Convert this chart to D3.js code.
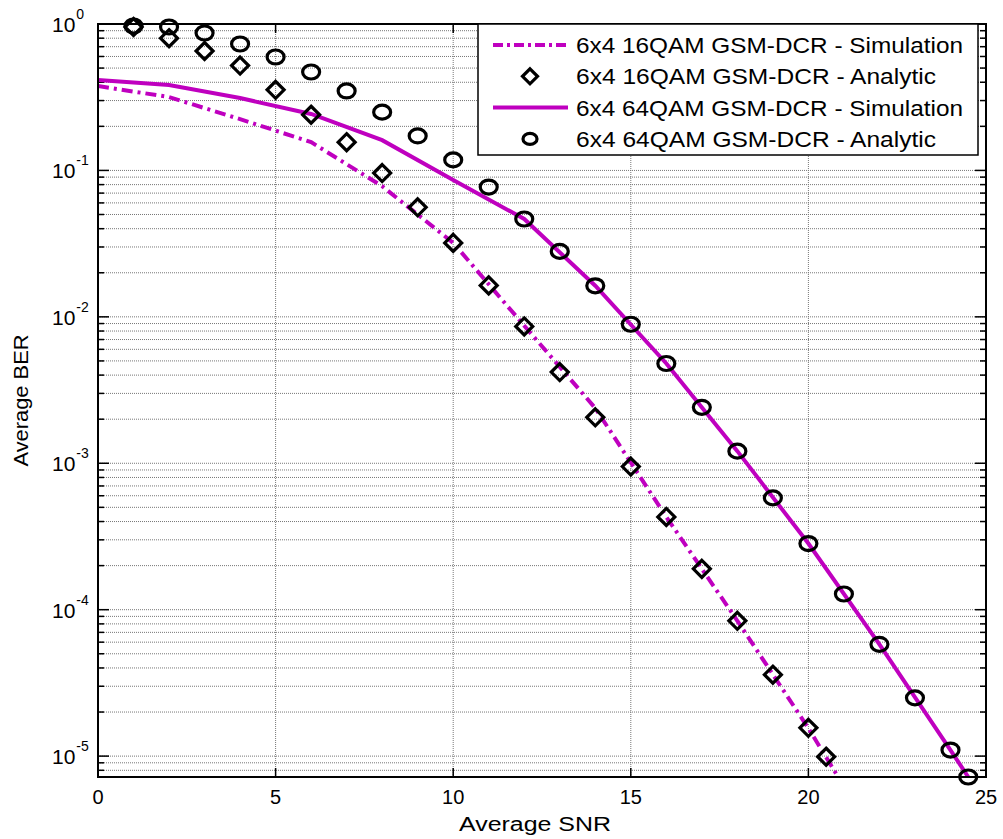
<!DOCTYPE html>
<html>
<head>
<meta charset="utf-8">
<script src="https://cdn.jsdelivr.net/npm/d3@7"></script>
<style>
    body { margin: 0; background: #fff; }
    text { font-family: "Liberation Sans", Arial, sans-serif; fill: #000; }
</style>
</head>
<body>
<div id="chart"></div>
<script>

// ---- data ----
const snr16Sim = [0, 2, 4, 6, 8, 10, 12, 14, 16, 18, 20, 21];
const ber16Sim = [0.377, 0.317, 0.224, 0.156, 0.078, 0.032, 0.0087, 0.00238, 0.00043, 0.000084, 0.0000155, 0.0000062];

const snr16Ana = [1, 2, 3, 4, 5, 6, 7, 8, 9, 10, 11, 12, 13, 14, 15, 16, 17, 18, 19, 20, 20.5];
const ber16Ana = [0.954, 0.80, 0.654, 0.52, 0.355, 0.24, 0.156, 0.096, 0.056, 0.032, 0.0164, 0.0086, 0.0042,
    0.00206, 0.00095, 0.00043, 0.00019, 0.000084, 0.000036, 0.0000156, 0.0000099];

const snr64Sim = [0, 2, 4, 6, 8, 10, 12, 14, 16, 18, 20, 22, 24, 24.5];
const ber64Sim = [0.414, 0.383, 0.312, 0.243, 0.161, 0.086, 0.0466, 0.0163, 0.0048, 0.00121, 0.000283,
    0.000058, 0.000011, 0.0000072];

const snr64Ana = [1, 2, 3, 4, 5, 6, 7, 8, 9, 10, 11, 12, 13, 14, 15, 16, 17, 18, 19, 20, 21, 22, 23, 24, 24.5];
const ber64Ana = [0.969, 0.954, 0.868, 0.73, 0.595, 0.47, 0.349, 0.25, 0.172, 0.118, 0.077, 0.0466, 0.028,
    0.0163, 0.0089, 0.0048, 0.00241, 0.00121, 0.00058, 0.000283, 0.000128, 0.000058, 0.000025, 0.000011, 0.0000072];

const xTicks = [0, 5, 10, 15, 20, 25];
const yExponents = [0, -1, -2, -3, -4, -5];
const legendLabels = [
    "6x4 16QAM GSM-DCR - Simulation",
    "6x4 16QAM GSM-DCR - Analytic",
    "6x4 64QAM GSM-DCR - Simulation",
    "6x4 64QAM GSM-DCR - Analytic"
];

// ---- drawing area ----
const margin = {top: 24, right: 17, bottom: 62, left: 98};
const width = 1003 - margin.left - margin.right,
    height = 839 - margin.top - margin.bottom;

const magenta = "#bf00bf";
const dashDot = "11,5,3,5";

const svg = d3.select("#chart").append("svg")
    .attr("width", 1003)
    .attr("height", 839)
    .append("g")
    .attr("transform", "translate(" + margin.left + "," + margin.top + ")");

const x = d3.scaleLinear().domain([0, 25]).range([0, width]);
const y = d3.scaleLog().domain([7.2e-6, 1]).range([height, 0]);

// all log ticks (major + minor) inside the domain
let logTicks = [];
for (let k = -6; k <= 0; k++) {
    for (let m = 1; m <= 9; m++) {
        const v = m * Math.pow(10, k);
        if (v >= y.domain()[0] && v <= 1) logTicks.push({v: v, major: m === 1});
    }
}

// grid
const grid = svg.append("g")
    .attr("stroke", "#777")
    .attr("stroke-width", 1)
    .attr("stroke-dasharray", "1,1");

grid.selectAll(".gx")
    .data(xTicks.filter(d => d > 0 && d < 25))
    .enter().append("line")
    .attr("x1", d => x(d)).attr("x2", d => x(d))
    .attr("y1", 0).attr("y2", height);

grid.selectAll(".gy")
    .data(logTicks.filter(d => d.v < 1))
    .enter().append("line")
    .attr("x1", 0).attr("x2", width)
    .attr("y1", d => y(d.v)).attr("y2", d => y(d.v));

// ticks (inward, on all four sides)
const ticks = svg.append("g").attr("stroke", "#000").attr("stroke-width", 1.5);

ticks.selectAll(".tl")
    .data(logTicks)
    .enter().append("line")
    .attr("x1", 0).attr("x2", d => d.major ? 11 : 6)
    .attr("y1", d => y(d.v)).attr("y2", d => y(d.v));

ticks.selectAll(".tr")
    .data(logTicks)
    .enter().append("line")
    .attr("x1", width).attr("x2", d => width - (d.major ? 11 : 6))
    .attr("y1", d => y(d.v)).attr("y2", d => y(d.v));

ticks.selectAll(".tb")
    .data(xTicks)
    .enter().append("line")
    .attr("x1", d => x(d)).attr("x2", d => x(d))
    .attr("y1", height).attr("y2", height - 9);

ticks.selectAll(".tt")
    .data(xTicks)
    .enter().append("line")
    .attr("x1", d => x(d)).attr("x2", d => x(d))
    .attr("y1", 0).attr("y2", 9);

// tick labels
svg.selectAll(".xl")
    .data(xTicks)
    .enter().append("text")
    .attr("x", d => x(d))
    .attr("y", height + 27)
    .attr("text-anchor", "middle")
    .style("font-size", "20px")
    .text(d => d);

const yl = svg.selectAll(".yl")
    .data(yExponents)
    .enter().append("text")
    .attr("x", -46)
    .attr("y", d => y(Math.pow(10, d)) + 8)
    .style("font-size", "21px");
yl.append("tspan").text("10");
yl.append("tspan")
    .attr("dx", 1)
    .attr("dy", -13)
    .style("font-size", "14px")
    .text(d => d === 0 ? "0" : "-" + Math.abs(d));

// axis labels
svg.append("text")
    .attr("x", width / 2 - 7)
    .attr("y", height + 54)
    .attr("text-anchor", "middle")
    .attr("textLength", 152)
    .attr("lengthAdjust", "spacingAndGlyphs")
    .style("font-size", "20px")
    .text("Average SNR");

svg.append("text")
    .attr("transform", "translate(" + (28 - margin.left) + "," + (height / 2) + ") rotate(-90)")
    .attr("text-anchor", "middle")
    .attr("textLength", 132)
    .attr("lengthAdjust", "spacingAndGlyphs")
    .style("font-size", "21px")
    .text("Average BER");

// curves
svg.append("clipPath").attr("id", "plot-clip")
    .append("rect").attr("width", width).attr("height", height);

const line = d3.line()
    .x(d => x(d[0]))
    .y(d => y(d[1]));

const curves = svg.append("g").attr("clip-path", "url(#plot-clip)");

curves.append("path")
    .datum(d3.zip(snr16Sim, ber16Sim))
    .attr("d", line)
    .attr("fill", "none")
    .attr("stroke", magenta)
    .attr("stroke-width", 4)
    .attr("stroke-dasharray", dashDot);

curves.append("path")
    .datum(d3.zip(snr64Sim, ber64Sim))
    .attr("d", line)
    .attr("fill", "none")
    .attr("stroke", magenta)
    .attr("stroke-width", 4);

// markers
const diamond = (cx, cy, r) =>
    "M" + cx + "," + (cy - r) + "L" + (cx + r) + "," + cy + "L" + cx + "," + (cy + r) + "L" + (cx - r) + "," + cy + "Z";

svg.append("g").selectAll("path")
    .data(d3.zip(snr16Ana, ber16Ana))
    .enter().append("path")
    .attr("d", d => diamond(x(d[0]), y(d[1]), 8.5))
    .attr("fill", "none")
    .attr("stroke", "#000")
    .attr("stroke-width", 3.2);

svg.append("g").selectAll("ellipse")
    .data(d3.zip(snr64Ana, ber64Ana))
    .enter().append("ellipse")
    .attr("cx", d => x(d[0]))
    .attr("cy", d => y(d[1]))
    .attr("rx", 8.5)
    .attr("ry", 7)
    .attr("fill", "none")
    .attr("stroke", "#000")
    .attr("stroke-width", 3.2);

// axes box
svg.append("rect")
    .attr("width", width)
    .attr("height", height)
    .attr("fill", "none")
    .attr("stroke", "#000")
    .attr("stroke-width", 2);

// legend
const legend = svg.append("g")
    .attr("transform", "translate(" + (478 - margin.left) + ",0)");

legend.append("rect")
    .attr("width", 500)
    .attr("height", 131)
    .attr("fill", "#fff")
    .attr("stroke", "#000")
    .attr("stroke-width", 1.5);

const rowY = i => 21 + i * 31.3;

legend.append("line")
    .attr("x1", 15).attr("x2", 90)
    .attr("y1", rowY(0)).attr("y2", rowY(0))
    .attr("stroke", magenta).attr("stroke-width", 4)
    .attr("stroke-dasharray", "10,4,3,4");

legend.append("path")
    .attr("d", diamond(52, rowY(1), 7.5))
    .attr("fill", "none").attr("stroke", "#000").attr("stroke-width", 3.2);

legend.append("line")
    .attr("x1", 15).attr("x2", 90)
    .attr("y1", rowY(2)).attr("y2", rowY(2))
    .attr("stroke", magenta).attr("stroke-width", 4);

legend.append("ellipse")
    .attr("cx", 52).attr("cy", rowY(3))
    .attr("rx", 7).attr("ry", 5.5)
    .attr("fill", "none").attr("stroke", "#000").attr("stroke-width", 3.2);

legend.selectAll(".lt")
    .data(legendLabels)
    .enter().append("text")
    .attr("x", 98)
    .attr("y", (d, i) => rowY(i) + 8)
    .attr("textLength", d => d.endsWith("Simulation") ? 387 : 360)
    .attr("lengthAdjust", "spacingAndGlyphs")
    .style("font-size", "22px")
    .text(d => d);

</script>
</body>
</html>
